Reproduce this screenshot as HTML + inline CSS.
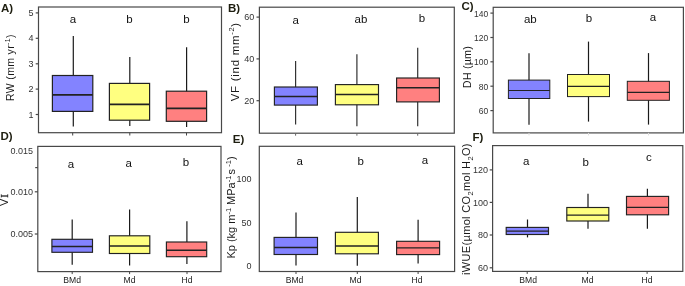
<!DOCTYPE html>
<html><head><meta charset="utf-8"><style>
html,body{margin:0;padding:0;background:#fff;}
body{width:685px;height:286px;overflow:hidden;}
svg{display:block;will-change:transform;}
text{font-family:"Liberation Sans", sans-serif;}
.tl{font-size:9px;fill:#333;}
.lt{font-size:11.5px;fill:#111;}
.xl{font-size:8.6px;fill:#222;}
.pl{font-size:11.5px;font-weight:bold;fill:#1e1e10;}
.yl{fill:#1a1a1a;}
</style></head><body>
<svg width="685" height="286" viewBox="0 0 685 286">
<rect x="0" y="0" width="685" height="286" fill="#fff"/>
<rect x="38.5" y="7.0" width="183.00" height="125.70" fill="none" stroke="#484848" stroke-width="1.2"/>
<line x1="35.70" y1="12.9" x2="38.5" y2="12.9" stroke="#484848" stroke-width="1.2"/>
<text x="33.6" y="16.00" class="tl" text-anchor="end" style="font-size:9px">5</text>
<line x1="35.70" y1="38.3" x2="38.5" y2="38.3" stroke="#484848" stroke-width="1.2"/>
<text x="33.6" y="41.40" class="tl" text-anchor="end" style="font-size:9px">4</text>
<line x1="35.70" y1="63.8" x2="38.5" y2="63.8" stroke="#484848" stroke-width="1.2"/>
<text x="33.6" y="66.90" class="tl" text-anchor="end" style="font-size:9px">3</text>
<line x1="35.70" y1="89.1" x2="38.5" y2="89.1" stroke="#484848" stroke-width="1.2"/>
<text x="33.6" y="92.20" class="tl" text-anchor="end" style="font-size:9px">2</text>
<line x1="35.70" y1="114.5" x2="38.5" y2="114.5" stroke="#484848" stroke-width="1.2"/>
<text x="33.6" y="117.60" class="tl" text-anchor="end" style="font-size:9px">1</text>
<line x1="73.3" y1="35.9" x2="73.3" y2="126.5" stroke="#1a1a1a" stroke-width="1.2"/>
<rect x="52.4" y="75.5" width="40.40" height="35.90" fill="#8383ff" stroke="#222" stroke-width="1.2"/>
<line x1="52.4" y1="94.8" x2="92.8" y2="94.8" stroke="#222" stroke-width="1.8"/>
<line x1="129.8" y1="56.9" x2="129.8" y2="126.0" stroke="#1a1a1a" stroke-width="1.2"/>
<rect x="109.4" y="83.4" width="40.20" height="36.80" fill="#ffff80" stroke="#222" stroke-width="1.2"/>
<line x1="109.4" y1="104.3" x2="149.6" y2="104.3" stroke="#222" stroke-width="1.8"/>
<line x1="186.6" y1="47.3" x2="186.6" y2="126.9" stroke="#1a1a1a" stroke-width="1.2"/>
<rect x="166.3" y="91.2" width="40.30" height="30.10" fill="#ff8080" stroke="#222" stroke-width="1.2"/>
<line x1="166.3" y1="108.4" x2="206.6" y2="108.4" stroke="#222" stroke-width="1.8"/>
<text x="72.9" y="22.6" class="lt" text-anchor="middle">a</text>
<text x="129.5" y="23.0" class="lt" text-anchor="middle">b</text>
<text x="186.5" y="23.0" class="lt" text-anchor="middle">b</text>
<line x1="72.7" y1="132.7" x2="72.7" y2="135.5" stroke="#444" stroke-width="1"/>
<line x1="129.8" y1="132.7" x2="129.8" y2="135.5" stroke="#444" stroke-width="1"/>
<line x1="186.5" y1="132.7" x2="186.5" y2="135.5" stroke="#444" stroke-width="1"/>
<rect x="259.4" y="7.2" width="194.90" height="126.00" fill="none" stroke="#484848" stroke-width="1.2"/>
<line x1="256.50" y1="17.1" x2="259.4" y2="17.1" stroke="#484848" stroke-width="1.2"/>
<text x="254.2" y="20.20" class="tl" text-anchor="end" style="font-size:9px">60</text>
<line x1="256.50" y1="58.9" x2="259.4" y2="58.9" stroke="#484848" stroke-width="1.2"/>
<text x="254.2" y="62.00" class="tl" text-anchor="end" style="font-size:9px">40</text>
<line x1="256.50" y1="100.7" x2="259.4" y2="100.7" stroke="#484848" stroke-width="1.2"/>
<text x="254.2" y="103.80" class="tl" text-anchor="end" style="font-size:9px">20</text>
<line x1="295.6" y1="61.0" x2="295.6" y2="124.6" stroke="#333" stroke-width="1.2"/>
<rect x="274.4" y="87.0" width="43.00" height="18.10" fill="#8383ff" stroke="#222" stroke-width="1.15"/>
<line x1="274.4" y1="96.5" x2="317.4" y2="96.5" stroke="#222" stroke-width="1.5"/>
<line x1="356.9" y1="54.2" x2="356.9" y2="126.2" stroke="#333" stroke-width="1.2"/>
<rect x="335.4" y="84.6" width="43.10" height="20.20" fill="#ffff80" stroke="#222" stroke-width="1.15"/>
<line x1="335.4" y1="94.6" x2="378.5" y2="94.6" stroke="#222" stroke-width="1.5"/>
<line x1="417.7" y1="47.7" x2="417.7" y2="126.2" stroke="#333" stroke-width="1.2"/>
<rect x="396.6" y="78.0" width="42.80" height="23.90" fill="#ff8080" stroke="#222" stroke-width="1.15"/>
<line x1="396.6" y1="87.7" x2="439.4" y2="87.7" stroke="#222" stroke-width="1.5"/>
<text x="295.7" y="23.6" class="lt" text-anchor="middle">a</text>
<text x="361.0" y="22.5" class="lt" text-anchor="middle">ab</text>
<text x="422.0" y="21.8" class="lt" text-anchor="middle">b</text>
<line x1="295.6" y1="133.2" x2="295.6" y2="135.7" stroke="#666" stroke-width="1"/>
<line x1="356.9" y1="133.2" x2="356.9" y2="135.7" stroke="#666" stroke-width="1"/>
<line x1="417.7" y1="133.2" x2="417.7" y2="135.7" stroke="#666" stroke-width="1"/>
<rect x="493.2" y="7.3" width="190.20" height="125.60" fill="none" stroke="#484848" stroke-width="1.2"/>
<line x1="490.40" y1="13.1" x2="493.2" y2="13.1" stroke="#484848" stroke-width="1.2"/>
<text x="488.2" y="16.60" class="tl" text-anchor="end" style="font-size:8.5px">140</text>
<line x1="490.40" y1="37.5" x2="493.2" y2="37.5" stroke="#484848" stroke-width="1.2"/>
<text x="488.2" y="41.00" class="tl" text-anchor="end" style="font-size:8.5px">120</text>
<line x1="490.40" y1="61.8" x2="493.2" y2="61.8" stroke="#484848" stroke-width="1.2"/>
<text x="488.2" y="65.30" class="tl" text-anchor="end" style="font-size:8.5px">100</text>
<line x1="490.40" y1="86.2" x2="493.2" y2="86.2" stroke="#484848" stroke-width="1.2"/>
<text x="488.2" y="89.70" class="tl" text-anchor="end" style="font-size:8.5px">80</text>
<line x1="490.40" y1="110.6" x2="493.2" y2="110.6" stroke="#484848" stroke-width="1.2"/>
<text x="488.2" y="114.10" class="tl" text-anchor="end" style="font-size:8.5px">60</text>
<line x1="529.0" y1="53.2" x2="529.0" y2="124.8" stroke="#1a1a1a" stroke-width="1.2"/>
<rect x="508.4" y="80.1" width="41.40" height="18.40" fill="#8383ff" stroke="#222" stroke-width="1.0"/>
<line x1="508.4" y1="90.5" x2="549.8" y2="90.5" stroke="#222" stroke-width="1.2"/>
<line x1="588.5" y1="41.6" x2="588.5" y2="121.6" stroke="#1a1a1a" stroke-width="1.2"/>
<rect x="567.5" y="74.5" width="42.00" height="22.10" fill="#ffff80" stroke="#222" stroke-width="1.0"/>
<line x1="567.5" y1="86.3" x2="609.5" y2="86.3" stroke="#222" stroke-width="1.2"/>
<line x1="648.5" y1="53.1" x2="648.5" y2="124.6" stroke="#1a1a1a" stroke-width="1.2"/>
<rect x="627.3" y="81.3" width="42.10" height="19.00" fill="#ff8080" stroke="#222" stroke-width="1.0"/>
<line x1="627.3" y1="92.3" x2="669.4" y2="92.3" stroke="#222" stroke-width="1.2"/>
<text x="530.3" y="22.7" class="lt" text-anchor="middle">ab</text>
<text x="589.0" y="21.8" class="lt" text-anchor="middle">b</text>
<text x="653.0" y="21.0" class="lt" text-anchor="middle">a</text>
<line x1="529.0" y1="132.9" x2="529.0" y2="135.4" stroke="#ddd" stroke-width="1"/>
<line x1="588.5" y1="132.9" x2="588.5" y2="135.4" stroke="#ddd" stroke-width="1"/>
<line x1="648.5" y1="132.9" x2="648.5" y2="135.4" stroke="#ddd" stroke-width="1"/>
<rect x="37.8" y="146.4" width="183.20" height="125.20" fill="none" stroke="#484848" stroke-width="1.2"/>
<text x="33.0" y="154.00" class="tl" text-anchor="end" style="font-size:9px">0.015</text>
<line x1="35.20" y1="167.6" x2="37.8" y2="167.6" stroke="#484848" stroke-width="1.2"/>
<line x1="34.80" y1="191.8" x2="37.8" y2="191.8" stroke="#484848" stroke-width="1.2"/>
<text x="33.0" y="194.90" class="tl" text-anchor="end" style="font-size:9px">0.010</text>
<line x1="34.80" y1="234.0" x2="37.8" y2="234.0" stroke="#484848" stroke-width="1.2"/>
<text x="33.0" y="237.10" class="tl" text-anchor="end" style="font-size:9px">0.005</text>
<line x1="72.2" y1="219.5" x2="72.2" y2="264.8" stroke="#1a1a1a" stroke-width="1.2"/>
<rect x="51.9" y="239.3" width="40.60" height="13.00" fill="#8383ff" stroke="#222" stroke-width="1.15"/>
<line x1="51.9" y1="246.4" x2="92.5" y2="246.4" stroke="#222" stroke-width="1.5"/>
<line x1="129.6" y1="209.5" x2="129.6" y2="265.6" stroke="#1a1a1a" stroke-width="1.2"/>
<rect x="109.4" y="235.8" width="40.40" height="17.70" fill="#ffff80" stroke="#222" stroke-width="1.15"/>
<line x1="109.4" y1="246.0" x2="149.8" y2="246.0" stroke="#222" stroke-width="1.5"/>
<line x1="186.9" y1="221.2" x2="186.9" y2="263.9" stroke="#1a1a1a" stroke-width="1.2"/>
<rect x="166.4" y="242.0" width="40.30" height="14.70" fill="#ff8080" stroke="#222" stroke-width="1.15"/>
<line x1="166.4" y1="250.3" x2="206.7" y2="250.3" stroke="#222" stroke-width="1.5"/>
<text x="71.0" y="167.8" class="lt" text-anchor="middle">a</text>
<text x="128.7" y="166.8" class="lt" text-anchor="middle">a</text>
<text x="185.9" y="165.7" class="lt" text-anchor="middle">b</text>
<line x1="72.2" y1="271.6" x2="72.2" y2="274.1" stroke="#444" stroke-width="1"/>
<line x1="129.6" y1="271.6" x2="129.6" y2="274.1" stroke="#444" stroke-width="1"/>
<line x1="187.0" y1="271.6" x2="187.0" y2="274.1" stroke="#444" stroke-width="1"/>
<text x="72.2" y="282.7" class="xl" text-anchor="middle">BMd</text>
<text x="129.6" y="282.7" class="xl" text-anchor="middle">Md</text>
<text x="187.0" y="282.7" class="xl" text-anchor="middle">Hd</text>
<rect x="259.3" y="146.3" width="195.30" height="125.20" fill="none" stroke="#484848" stroke-width="1.2"/>
<text x="251.6" y="182.20" class="tl" text-anchor="end" style="font-size:9px">100</text>
<text x="251.6" y="225.70" class="tl" text-anchor="end" style="font-size:9px">50</text>
<text x="251.6" y="269.40" class="tl" text-anchor="end" style="font-size:9px">0</text>
<line x1="296.0" y1="212.5" x2="296.0" y2="265.6" stroke="#1a1a1a" stroke-width="1.2"/>
<rect x="274.1" y="237.4" width="43.40" height="17.10" fill="#8383ff" stroke="#222" stroke-width="1.15"/>
<line x1="274.1" y1="247.5" x2="317.5" y2="247.5" stroke="#222" stroke-width="1.4"/>
<line x1="357.3" y1="197.1" x2="357.3" y2="265.7" stroke="#1a1a1a" stroke-width="1.2"/>
<rect x="335.4" y="232.3" width="43.00" height="21.50" fill="#ffff80" stroke="#222" stroke-width="1.15"/>
<line x1="335.4" y1="246.0" x2="378.4" y2="246.0" stroke="#222" stroke-width="1.4"/>
<line x1="418.1" y1="219.7" x2="418.1" y2="263.5" stroke="#1a1a1a" stroke-width="1.2"/>
<rect x="396.6" y="241.3" width="43.00" height="13.30" fill="#ff8080" stroke="#222" stroke-width="1.15"/>
<line x1="396.6" y1="247.9" x2="439.6" y2="247.9" stroke="#222" stroke-width="1.4"/>
<text x="299.7" y="165.4" class="lt" text-anchor="middle">a</text>
<text x="360.7" y="164.5" class="lt" text-anchor="middle">b</text>
<text x="425.0" y="163.6" class="lt" text-anchor="middle">a</text>
<line x1="296.0" y1="271.5" x2="296.0" y2="274.0" stroke="#444" stroke-width="1"/>
<line x1="357.3" y1="271.5" x2="357.3" y2="274.0" stroke="#444" stroke-width="1"/>
<line x1="418.1" y1="271.5" x2="418.1" y2="274.0" stroke="#444" stroke-width="1"/>
<text x="294.5" y="282.7" class="xl" text-anchor="middle">BMd</text>
<text x="355.5" y="282.7" class="xl" text-anchor="middle">Md</text>
<text x="417.0" y="282.7" class="xl" text-anchor="middle">Hd</text>
<rect x="492.6" y="145.6" width="190.20" height="125.80" fill="none" stroke="#484848" stroke-width="1.2"/>
<line x1="489.70" y1="169.9" x2="492.6" y2="169.9" stroke="#484848" stroke-width="1.2"/>
<text x="488.0" y="173.00" class="tl" text-anchor="end" style="font-size:9px">120</text>
<line x1="489.70" y1="202.4" x2="492.6" y2="202.4" stroke="#484848" stroke-width="1.2"/>
<text x="488.0" y="205.50" class="tl" text-anchor="end" style="font-size:9px">100</text>
<line x1="489.70" y1="235.0" x2="492.6" y2="235.0" stroke="#484848" stroke-width="1.2"/>
<text x="488.0" y="238.10" class="tl" text-anchor="end" style="font-size:9px">80</text>
<line x1="489.70" y1="267.8" x2="492.6" y2="267.8" stroke="#484848" stroke-width="1.2"/>
<text x="488.0" y="270.90" class="tl" text-anchor="end" style="font-size:9px">60</text>
<line x1="527.5" y1="219.5" x2="527.5" y2="237.4" stroke="#1a1a1a" stroke-width="1.2"/>
<rect x="506.2" y="227.4" width="42.30" height="7.10" fill="#8383ff" stroke="#222" stroke-width="1.15"/>
<line x1="506.2" y1="231.1" x2="548.5" y2="231.1" stroke="#222" stroke-width="1.3"/>
<line x1="588.0" y1="193.7" x2="588.0" y2="228.8" stroke="#1a1a1a" stroke-width="1.2"/>
<rect x="566.8" y="207.5" width="42.00" height="13.50" fill="#ffff80" stroke="#222" stroke-width="1.15"/>
<line x1="566.8" y1="215.2" x2="608.8" y2="215.2" stroke="#222" stroke-width="1.3"/>
<line x1="647.4" y1="188.8" x2="647.4" y2="228.7" stroke="#1a1a1a" stroke-width="1.2"/>
<rect x="626.5" y="196.4" width="42.10" height="18.40" fill="#ff8080" stroke="#222" stroke-width="1.15"/>
<line x1="626.5" y1="207.4" x2="668.6" y2="207.4" stroke="#222" stroke-width="1.3"/>
<text x="526.2" y="165.2" class="lt" text-anchor="middle">a</text>
<text x="585.8" y="165.7" class="lt" text-anchor="middle">b</text>
<text x="648.8" y="161.0" class="lt" text-anchor="middle">c</text>
<line x1="527.2" y1="271.4" x2="527.2" y2="273.9" stroke="#444" stroke-width="1"/>
<line x1="587.6" y1="271.4" x2="587.6" y2="273.9" stroke="#444" stroke-width="1"/>
<line x1="647.1" y1="271.4" x2="647.1" y2="273.9" stroke="#444" stroke-width="1"/>
<text x="528.1" y="282.7" class="xl" text-anchor="middle">BMd</text>
<text x="587.6" y="282.7" class="xl" text-anchor="middle">Md</text>
<text x="647.1" y="282.7" class="xl" text-anchor="middle">Hd</text>
<text x="1.0" y="11.6" class="pl">A)</text>
<text x="228.0" y="11.6" class="pl">B)</text>
<text x="461.5" y="10.4" class="pl">C)</text>
<text x="0.5" y="139.7" class="pl">D)</text>
<text x="232.8" y="142.8" class="pl">E)</text>
<text x="472.6" y="141.0" class="pl">F)</text>
<text transform="translate(13.5,101.0) rotate(-90)" class="yl" style="font-size:10.5px" textLength="66.5" lengthAdjust="spacing">RW (mm yr<tspan dy="-4" font-size="7">-1</tspan><tspan dy="4">)</tspan></text>
<text transform="translate(238.8,101.3) rotate(-90)" class="yl" style="font-size:11.5px" textLength="78.5" lengthAdjust="spacing">VF (ind mm<tspan dy="-4.5" font-size="7.5">-2</tspan><tspan dy="4.5">)</tspan></text>
<text transform="translate(470.9,88.2) rotate(-90)" class="yl" style="font-size:10.8px" textLength="42.0" lengthAdjust="spacing">DH (µm)</text>
<text transform="translate(8.4,206.0) rotate(-90)" class="yl" style="font-size:11.0px">V<tspan dx="1" font-family="Liberation Serif" stroke="#1a1a1a" stroke-width="0.35">I</tspan></text>
<text transform="translate(235.4,258.6) rotate(-90)" class="yl" style="font-size:11.0px">Kp (kg m<tspan dy="-4.5" font-size="7.5">-1</tspan><tspan dy="4.5" dx="3.0">MPa</tspan><tspan dy="-4.5" font-size="7.5">-1</tspan><tspan dy="4.5" dx="1.2">s</tspan><tspan dy="-4.5" dx="2.2" font-size="7.5">-1</tspan><tspan dy="4.5">)</tspan></text>
<text transform="translate(470.0,275.0) rotate(-90)" class="yl" style="font-size:11.0px" textLength="131.5" lengthAdjust="spacing">iWUE(µmol CO<tspan dy="3" font-size="7.5">2</tspan><tspan dy="-3">mol H</tspan><tspan dy="3" font-size="7.5">2</tspan><tspan dy="-3">O)</tspan></text>
</svg>
</body></html>
